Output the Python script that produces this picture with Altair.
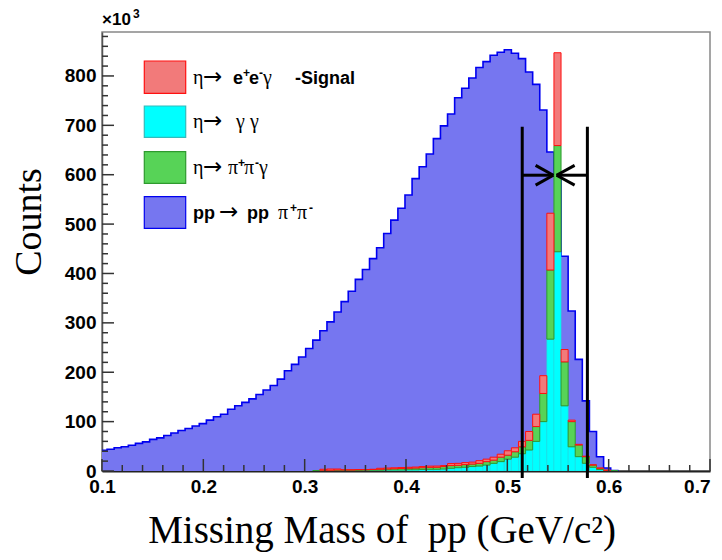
import altair as alt
import pandas as pd

# ---------------- data (counts in units of 10^3) ----------------
bin_width = 0.007          # GeV/c^2 per bin
first_bin = 14             # index of first background bin (k * bin_width = lower edge)
bkg_pp_pipi = [42, 44, 47, 49, 52, 56, 59, 64, 67, 72, 77, 82, 86, 91, 96,
               103, 110, 115, 125, 132, 139, 146, 155, 164, 173, 186, 203, 216, 231, 248,
               265, 284, 302, 322, 343, 364, 388, 408, 430, 452, 481, 508, 532, 559, 592,
               616, 642, 673, 699, 723, 756, 775, 796, 817, 829, 842, 848, 853, 846, 835,
               808, 783, 731, 646, 600, 435, 324, 226, 142, 80, 29, 6, 1]

eta_first_bin = 44
eta_gg = [0.5, 0.5, 0.5, 1, 1, 1, 1, 1.5, 1.5, 1.5, 2, 2, 2, 2.5, 2.5,
          3, 3.4, 3.4, 4, 5.5, 6.7, 7.5, 9, 10, 12, 15.5, 19, 24, 28, 35,
          42.5, 60, 100, 267, 444, 132, 49, 29, 15.6, 7.5, 3, 1, 0.3]
eta_pipig = [0.5, 1, 1, 1, 1, 1, 1.5, 1, 1.5, 2, 2, 2.5, 3, 3, 3.5,
             3.7, 4, 4.1, 5, 5.5, 4.8, 5.5, 5, 5.5, 7, 6.5, 9, 8, 11, 14,
             19.5, 30, 57, 140, 215, 89, 51, 23.6, 13.4, 4.5, 2.5, 0.5, 0.2]
eta_eeg = [0, 2, 2.5, 2, 0.5, 0.5, 0.5, 0.5, 0.5, 2, 2, 2, 2, 2, 2,
           2.3, 2.5, 2.5, 2, 4, 4, 4, 4, 5.5, 5, 6, 6, 9, 8, 11,
           18, 25, 36, 115, 188, 25, 3, 1.4, 1, 0.5, 0.5, 0.1, 0]

x_ticks = [0.1, 0.2, 0.3, 0.4, 0.5, 0.6, 0.7]
y_ticks = [0, 100, 200, 300, 400, 500, 600, 700, 800]
x_minor = [round(0.1 + 0.02 * i, 2) for i in range(31) if i % 5]
y_minor = [20 * i for i in range(45) if i % 5]

cut_lines = [0.5147, 0.5790]
cut_top = 697
cut_bottom = -14
arrows = [  # (x, y, x2, y2)
    (0.5147, 599, 0.5454, 599), (0.5279, 619, 0.5454, 599), (0.5279, 579, 0.5454, 599),
    (0.5790, 599, 0.5486, 599), (0.5664, 619, 0.5486, 599), (0.5664, 579, 0.5486, 599),
]

BLUE_FILL, BLUE_LINE = "#7676f0", "#0000f0"
RED_FILL, RED_LINE = "#f27a7a", "#ff1010"
CYAN_FILL, CYAN_LINE = "#00ffff", "#20dede"
GREEN_FILL, GREEN_LINE = "#57d357", "#2e9a2e"

# ---------------- tables ----------------
lo_edges = [(first_bin + i) * bin_width for i in range(len(bkg_pp_pipi))]
hi_last = (first_bin + len(bkg_pp_pipi)) * bin_width
step = pd.DataFrame({"lo": lo_edges + [hi_last], "v": bkg_pp_pipi + [0.0]})

rows = []
for i in range(len(eta_gg)):
    k = eta_first_bin + i
    lo, hi = k * bin_width, (k + 1) * bin_width
    base = 0.0
    for comp, val in (("gg", eta_gg[i]), ("pipig", eta_pipig[i]), ("eeg", eta_eeg[i])):
        if val > 0:
            rows.append({"lo": lo, "hi": hi, "y0": base, "y1": base + val, "comp": comp})
        base += val
eta = pd.DataFrame(rows)

xs = alt.Scale(domain=[0.1, 0.7], nice=False, zero=False)
ys = alt.Scale(domain=[0, 889], nice=False, zero=False)

xaxis = alt.Axis(values=x_ticks, format=".1f", title=None, ticks=False, grid=False,
                 labelFont="Liberation Sans", labelFontWeight="bold", labelFontSize=19,
                 labelColor="black", labelPadding=6, labelFlush=False, labelOverlap=False,
                 labelAlign=alt.expr("datum.value >= 0.69 ? 'right' : 'center'"),
                 domainColor="#222", domainWidth=2)
yaxis = alt.Axis(values=y_ticks, format="d", title=None, ticks=False, grid=False,
                 labelFont="Liberation Sans", labelFontWeight="bold", labelFontSize=19,
                 labelColor="black", labelPadding=6, labelFlush=False, labelOverlap=False,
                 domainColor="#555", domainWidth=1.5)

X = lambda f: alt.X(f, type="quantitative", scale=xs, axis=xaxis)
Y = lambda f: alt.Y(f, type="quantitative", scale=ys, axis=yaxis)

bkg_fill = alt.Chart(step).mark_area(clip=True, interpolate="step-after",
                                     color=BLUE_FILL, opacity=1).encode(
    x=X("lo"), y=Y("v"))
bkg_line = alt.Chart(step).mark_line(clip=True, interpolate="step-after", color=BLUE_LINE,
                                     strokeWidth=1.6).encode(x=X("lo"), y=Y("v"))

def comp_layer(name, fill, line, sw):
    return alt.Chart(eta).transform_filter(alt.datum.comp == name).mark_rect(
        clip=True, fill=fill, stroke=line, strokeWidth=sw).encode(
        x=X("lo"), x2="hi", y=Y("y0"), y2="y1")

gg_l = comp_layer("gg", CYAN_FILL, CYAN_LINE, 0.6)
pg_l = comp_layer("pipig", GREEN_FILL, GREEN_LINE, 1)
ee_l = comp_layer("eeg", RED_FILL, RED_LINE, 1)

# inward ticks
ytk = pd.DataFrame({"v": y_ticks})
ymn = pd.DataFrame({"v": y_minor})
xtk = pd.DataFrame({"v": x_ticks})
xmn = pd.DataFrame({"v": x_minor})
tick_col = "#333"
ytk_l = alt.Chart(ytk).mark_rule(color=tick_col, strokeWidth=1.5).encode(
    y=Y("v"), x=alt.value(0), x2=alt.value(12))
ymn_l = alt.Chart(ymn).mark_rule(color=tick_col, strokeWidth=1.5).encode(
    y=Y("v"), x=alt.value(0), x2=alt.value(6))
xtk_l = alt.Chart(xtk).mark_rule(color=tick_col, strokeWidth=1.5).encode(
    x=X("v"), y=alt.value(439), y2=alt.value(427))
xmn_l = alt.Chart(xmn).mark_rule(color=tick_col, strokeWidth=1.5).encode(
    x=X("v"), y=alt.value(439), y2=alt.value(433))

# cut lines and arrows
cuts = pd.DataFrame({"x": cut_lines, "y": [cut_top] * 2, "y2": [cut_bottom] * 2})
cut_l = alt.Chart(cuts).mark_rule(clip=False, color="black", strokeWidth=3).encode(
    x=X("x"), y=Y("y"), y2="y2")
arr = pd.DataFrame(arrows, columns=["x", "y", "x2", "y2"])
arr_l = alt.Chart(arr).mark_rule(clip=False, color="black", strokeWidth=3).encode(
    x=X("x"), x2="x2", y=Y("y"), y2="y2")

# ---------------- legend & text annotations (pixel layout) ----------------
sw = pd.DataFrame({
    "x": [42.3] * 4, "x2": [83.7] * 4,
    "y": [29, 74, 119.7, 164.7], "y2": [61.3, 105.3, 151.3, 196.3],
    "fill": [RED_FILL, CYAN_FILL, GREEN_FILL, BLUE_FILL],
    "stroke": [RED_LINE, "#33bbbb", GREEN_LINE, BLUE_LINE],
})
sw_l = alt.Chart(sw).mark_rect(strokeWidth=1.2).encode(
    x=alt.X("x:Q", scale=None, axis=None), x2="x2",
    y=alt.Y("y:Q", scale=None, axis=None), y2="y2",
    fill=alt.Fill("fill:N", scale=None), stroke=alt.Stroke("stroke:N", scale=None))

base_y = [51.5, 96, 141.8, 186.8]
pieces = [  # (row, x, text, style)
    (0, 91, "η", "serif"), (0, 101, "→", "arrow"), (0, 131, "e", "bold"), (0, 141, "+", "sup"),
    (0, 147, "e", "bold"), (0, 157, "-", "sup"), (0, 161, "γ", "serif"), (0, 193, "-Signal", "bold"),
    (1, 91, "η", "serif"), (1, 101, "→", "arrow"), (1, 134, "γ", "serif"), (1, 148, "γ", "serif"),
    (2, 91, "η", "serif"), (2, 101, "→", "arrow"), (2, 126, "π", "serif"), (2, 136, "+", "sup"),
    (2, 142, "π", "serif"), (2, 153, "-", "sup"), (2, 157, "γ", "serif"),
    (3, 91, "pp", "bold"), (3, 117, "→", "arrow"), (3, 145, "pp", "bold"), (3, 176, "π", "serif"),
    (3, 188, "+", "sup"), (3, 195, "π", "serif"), (3, 207, "-", "sup"),
]
pc = pd.DataFrame([{"x": x, "y": base_y[r] - (7 if s == "sup" else 0), "t": t, "s": s}
                   for r, x, t, s in pieces])

def txt(df, style, font, size, weight):
    return alt.Chart(df).transform_filter(alt.datum.s == style).mark_text(
        align="left", baseline="alphabetic", font=font, fontSize=size,
        fontWeight=weight, color="black").encode(
        x=alt.X("x:Q", scale=None, axis=None), y=alt.Y("y:Q", scale=None, axis=None),
        text="t:N")

leg_serif = txt(pc, "serif", "Liberation Serif", 20, "normal")
leg_arrow = txt(pc, "arrow", "DejaVu Sans", 23, "normal")
leg_bold = txt(pc, "bold", "Liberation Sans", 18, "bold")
leg_sup = txt(pc, "sup", "Liberation Sans", 12, "bold")

ann = pd.DataFrame([
    {"x": 0, "y": -7, "t": "×10", "s": "bold"},
    {"x": 31, "y": -14, "t": "3", "s": "sup"},
])
exp_bold = txt(ann, "bold", "Liberation Sans", 17, "bold")
exp_sup = txt(ann, "sup", "Liberation Sans", 12, "bold")

xtitle = alt.Chart(pd.DataFrame({"t": ["Missing Mass of\u00a0 pp (GeV/c²)"]})).mark_text(
    align="center", baseline="alphabetic", font="Liberation Serif", fontSize=39,
    color="black").encode(x=alt.value(280), y=alt.value(511), text="t:N")
ytitle = alt.Chart(pd.DataFrame({"t": ["Counts"]})).mark_text(
    align="center", baseline="middle", font="Liberation Serif", fontSize=38, angle=270,
    color="black").encode(x=alt.value(-72), y=alt.value(190), text="t:N")

chart = alt.layer(
    bkg_fill, bkg_line, gg_l, pg_l, ee_l,
    ytk_l, ymn_l, xtk_l, xmn_l, cut_l, arr_l,
    sw_l, leg_serif, leg_arrow, leg_bold, leg_sup, exp_bold, exp_sup, xtitle, ytitle,
).properties(
    width=608, height=439,
    autosize=alt.AutoSizeParams(type="none"),
    padding={"left": 94, "top": 24, "right": 4, "bottom": 81},
).configure_view(stroke="#888", strokeWidth=1.5)

chart.save("out.html", embed_options={"renderer": "svg", "actions": False})
